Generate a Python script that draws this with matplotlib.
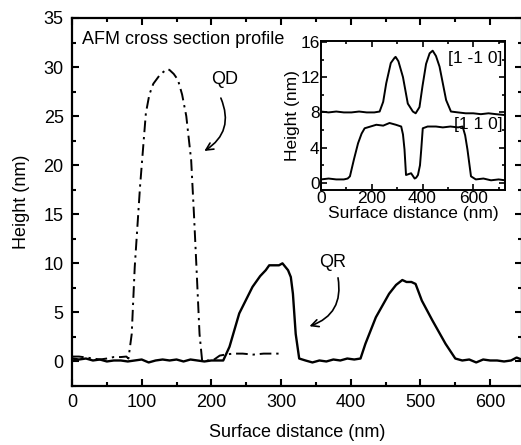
import matplotlib
matplotlib.use("Agg")
import matplotlib.pyplot as plt
from matplotlib.ticker import MultipleLocator

plt.rcParams['font.family'] = ['Liberation Sans', 'DejaVu Sans']
plt.rcParams['font.size'] = 13

# ── Main profile data ────────────────────────────────────────────────────────
qr_x = [0, 10, 20, 30, 40, 50, 60, 70, 80, 90, 100, 110, 120, 130, 140, 150,
        160, 170, 180, 190, 200, 210, 217, 226, 240, 259, 270, 278, 283, 290,
        297, 302, 310, 314, 317, 321, 326, 335, 345, 355, 365, 375, 385, 395,
        405, 414, 421, 436, 455, 465, 474, 480, 487, 493, 502, 517, 536, 550,
        560, 570, 580, 590, 600, 610, 620, 630, 638, 645]
qr_y = [0.3, 0.2, 0.3, 0.1, 0.2, 0.0, 0.1, 0.1, 0.0, 0.1, 0.2, -0.1, 0.1, 0.2,
        0.1, 0.2, 0.0, 0.2, 0.1, 0.0, 0.1, 0.1, 0.1, 1.5, 4.9, 7.6, 8.7, 9.3,
        9.8, 9.8, 9.8, 10.0, 9.3, 8.6, 6.9, 2.8, 0.3, 0.1, -0.1, 0.1, 0.0, 0.2,
        0.1, 0.3, 0.2, 0.3, 1.8, 4.5, 6.9, 7.8, 8.3, 8.1, 8.1, 7.9, 6.2, 4.2,
        1.8, 0.3, 0.1, 0.2, -0.1, 0.2, 0.1, 0.1, 0.0, 0.1, 0.4, 0.2]

qd_x = [0, 10, 21, 30, 40, 50, 60, 70, 78, 81, 85.7, 90, 97.6, 106, 111,
        116.7, 125, 131, 137, 140, 146, 152, 158, 164, 171, 175, 178.6, 183,
        186.7, 195, 202, 212, 220, 231, 245, 260, 275, 290, 298]
qd_y = [0.5, 0.5, 0.4, 0.3, 0.2, 0.3, 0.45, 0.45, 0.5, 0.3, 2.8, 9.6, 17.8,
        25.3, 27.2, 28.3, 29.1, 29.5, 29.8, 29.7, 29.3, 28.7, 27.2, 25.0, 20.5,
        15.0, 9.6, 2.8, 0.1, 0.1, 0.1, 0.6, 0.7, 0.8, 0.8, 0.7, 0.8, 0.8, 0.8]

# ── Inset data ───────────────────────────────────────────────────────────────
in_x_110m = [0, 30, 60, 90, 120, 150, 180, 210, 231, 245, 257, 275, 290, 294,
             305, 323, 342, 362, 373, 388, 400, 414, 428, 440, 453, 467, 480,
             493, 512, 540, 570, 600, 630, 660, 690, 725]
in_y_110m = [8.1, 8.0, 8.1, 8.0, 8.0, 8.1, 8.0, 8.0, 8.1, 9.2, 11.3, 13.6,
             14.2, 14.3, 13.8, 12.0, 9.0, 8.1, 7.9, 8.6, 11.0, 13.5, 14.7, 15.0,
             14.4, 13.2, 11.3, 9.4, 8.1, 8.0, 7.9, 7.9, 7.8, 7.9, 7.8, 7.7]

in_x_110 = [0, 30, 60, 90, 105, 114, 130, 146, 160, 172, 195, 218, 245, 270,
            295, 316, 323, 329, 335, 345, 355, 362, 369, 375, 382, 390, 395,
            401, 420, 453, 480, 510, 540, 558, 568, 577, 591, 610, 640, 670,
            700, 725]
in_y_110 = [0.4, 0.5, 0.4, 0.4, 0.5, 0.75, 2.7, 4.5, 5.6, 6.2, 6.4, 6.6, 6.5,
            6.8, 6.6, 6.4, 5.5, 3.8, 0.9, 1.0, 1.1, 0.8, 0.5, 0.6, 0.9, 2.0,
            3.8, 6.2, 6.4, 6.4, 6.3, 6.4, 6.3, 6.4, 5.4, 3.8, 0.75, 0.4, 0.5,
            0.3, 0.4, 0.3]

fig = plt.figure(figsize=(5.21, 4.45), dpi=100)
ax = fig.add_axes([72 / 521, 59 / 445, 449.5 / 521, 368 / 445])

ax.plot(qr_x, qr_y, color='black', lw=1.7)
ax.plot(qd_x, qd_y, color='black', lw=1.4, ls=(0, (6, 2.5, 1.2, 2.5)))

ax.set_xlim(0, 645)
ax.set_ylim(-2.5, 35)
ax.xaxis.set_major_locator(MultipleLocator(100))
ax.xaxis.set_minor_locator(MultipleLocator(50))
ax.yaxis.set_major_locator(MultipleLocator(5))
ax.yaxis.set_minor_locator(MultipleLocator(2.5))
ax.tick_params(which='both', direction='in', top=True, right=True, width=1.5,
               labelsize=13, pad=6)
ax.tick_params(which='major', length=5)
ax.tick_params(which='minor', length=3)
for s in ax.spines.values():
    s.set_linewidth(1.6)
ax.set_xlabel('Surface distance (nm)', fontsize=13, labelpad=9)
ax.set_ylabel('Height (nm)', fontsize=13, labelpad=10)

ax.text(0.022, 0.965, 'AFM cross section profile', transform=ax.transAxes,
        fontsize=13, va='top', ha='left')

# Labels with curved arrows
ax.text(219, 28.7, 'QD', fontsize=13, ha='center', va='center')
ax.annotate('', xy=(186.5, 21.3), xytext=(212, 27.1),
            arrowprops=dict(arrowstyle='->', color='black', lw=1.2,
                            connectionstyle='arc3,rad=-0.45'))
ax.text(374, 10.1, 'QR', fontsize=13, ha='center', va='center')
ax.annotate('', xy=(337, 3.5), xytext=(381, 8.8),
            arrowprops=dict(arrowstyle='->', color='black', lw=1.2,
                            connectionstyle='arc3,rad=-0.45'))

# ── Inset ────────────────────────────────────────────────────────────────────
ins = fig.add_axes([321 / 521, 255 / 445, 184 / 521, 149 / 445])
ins.plot(in_x_110m, in_y_110m, color='black', lw=1.4)
ins.plot(in_x_110, in_y_110, color='black', lw=1.4)
ins.set_xlim(0, 725)
ins.set_ylim(-0.8, 16.1)
ins.xaxis.set_major_locator(MultipleLocator(200))
ins.xaxis.set_minor_locator(MultipleLocator(100))
ins.yaxis.set_major_locator(MultipleLocator(4))
ins.yaxis.set_minor_locator(MultipleLocator(2))
ins.tick_params(which='both', direction='in', top=True, right=True, width=1.2,
                labelsize=12.5, pad=1)
ins.tick_params(which='major', length=4)
ins.tick_params(which='minor', length=2.5)
for s in ins.spines.values():
    s.set_linewidth(1.4)
ins.set_xlabel('Surface distance (nm)', fontsize=12.5, labelpad=0)
ins.set_ylabel('Height (nm)', fontsize=12.5, labelpad=0)
ins.text(0.985, 0.93, '[1 -1 0]', transform=ins.transAxes, fontsize=12.5,
         ha='right', va='top')
ins.text(0.985, 0.49, '[1 1 0]', transform=ins.transAxes, fontsize=12.5,
         ha='right', va='top')

fig.savefig('out.png', dpi=100)
